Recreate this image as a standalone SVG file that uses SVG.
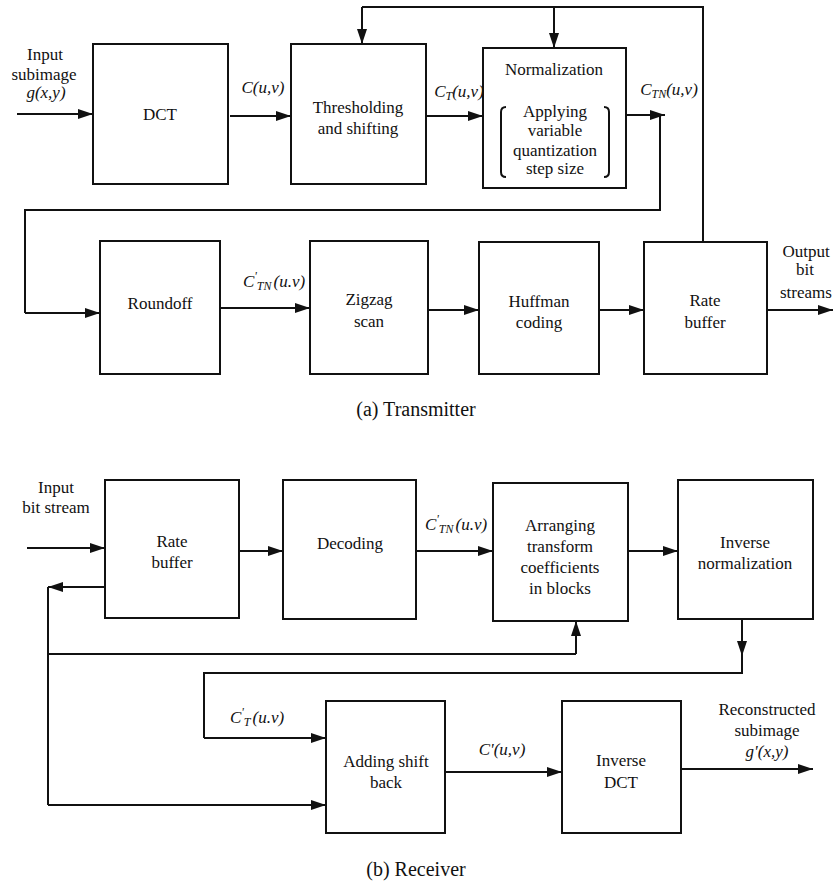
<svg xmlns="http://www.w3.org/2000/svg" width="833" height="887" viewBox="0 0 833 887">
<style>
.box{fill:#fff;stroke:#111;stroke-width:2}
.ln{fill:none;stroke:#111;stroke-width:2}
.ar{fill:none;stroke:#111;stroke-width:2;marker-end:url(#ah)}
text{font-family:"Liberation Serif","DejaVu Serif",serif;font-size:17px;fill:#111;text-anchor:middle}
.m{font-style:italic}
.s{font-size:12px}
.cap{font-size:20px}
</style>
<defs>
<marker id="ah" markerUnits="userSpaceOnUse" markerWidth="16" markerHeight="10" refX="15" refY="5" orient="auto">
<path d="M0,0 L15,5 L0,10 z" fill="#111"/>
</marker>
</defs>
<rect width="833" height="887" fill="#fff"/>

<g id="connectors">
<!-- transmitter -->
<path class="ar" d="M17,114 H93"/>
<path class="ar" d="M230,116 H291"/>
<path class="ar" d="M426,116 H483"/>
<path class="ln" d="M703,242 V7 H362"/>
<path class="ar" d="M362,7 V44"/>
<path class="ar" d="M554,7 V48"/>
<path class="ar" d="M626,115 H665"/>
<path class="ln" d="M660,115 V210 H25 V313"/>
<path class="ar" d="M25,313 H100"/>
<path class="ar" d="M220,308 H310"/>
<path class="ar" d="M428,310 H479"/>
<path class="ar" d="M599,310 H644"/>
<path class="ar" d="M767,310 H833"/>
<!-- receiver -->
<path class="ar" d="M27,548 H105"/>
<path class="ar" d="M239,551 H283"/>
<path class="ar" d="M416,551 H493"/>
<path class="ar" d="M628,551 H678"/>
<path class="ar" d="M105,587 H48"/>
<path class="ln" d="M48,587 V805"/>
<path class="ln" d="M48,654 H576"/>
<path class="ar" d="M576,654 V621"/>
<path class="ar" d="M48,805 H326"/>
<path class="ar" d="M742,619 V656"/>
<path class="ln" d="M742,650 V673 H204 V738"/>
<path class="ar" d="M204,738 H326"/>
<path class="ar" d="M445,772 H562"/>
<path class="ar" d="M681,769 H813"/>
</g>

<g id="dct"><rect class="box" x="93" y="44" width="135" height="140"/><text x="160" y="120">DCT</text></g>
<g id="threshold"><rect class="box" x="291" y="44" width="135" height="140"/><text x="358" y="113">Thresholding</text><text x="358" y="134">and shifting</text></g>
<g id="normalization"><rect class="box" x="483" y="48" width="143" height="140"/>
<text x="554" y="75">Normalization</text>
<path class="ln" d="M506,107 Q501,107 501,112 V172 Q501,177 506,177" stroke-width="1.8"/>
<path class="ln" d="M604,107 Q609,107 609,112 V172 Q609,177 604,177" stroke-width="1.8"/>
<text x="555" y="117">Applying</text><text x="555" y="136">variable</text><text x="555" y="156">quantization</text><text x="555" y="174">step size</text></g>
<g id="roundoff"><rect class="box" x="100" y="241" width="120" height="133"/><text x="160" y="309">Roundoff</text></g>
<g id="zigzag"><rect class="box" x="310" y="241" width="118" height="133"/><text x="369" y="305">Zigzag</text><text x="369" y="327">scan</text></g>
<g id="huffman"><rect class="box" x="479" y="242" width="120" height="132"/><text x="539" y="307">Huffman</text><text x="539" y="328">coding</text></g>
<g id="ratebuffer-tx"><rect class="box" x="644" y="242" width="123" height="132"/><text x="705" y="306">Rate</text><text x="705" y="328">buffer</text></g>

<g id="tx-labels">
<text x="45" y="60">Input</text><text x="44" y="80">subimage</text><text x="46" y="98" class="m">g(x,y)</text>
<text x="263" y="93" class="m">C(u,v)</text>
<text x="459" y="97" class="m">C<tspan class="s" dy="3">T</tspan><tspan dy="-3">(u,v)</tspan></text>
<text x="669" y="95" class="m">C<tspan class="s" dy="3">TN</tspan><tspan dy="-3">(u,v)</tspan></text>
<text x="274" y="287" class="m">C<tspan class="s" dy="-7">'</tspan><tspan class="s" dy="10">TN</tspan><tspan dy="-3" dx="2">(u.v)</tspan></text>
<text x="806" y="257">Output</text><text x="805" y="275">bit</text><text x="780" y="298" style="text-anchor:start">streams</text>
<text x="416" y="416" class="cap">(a) Transmitter</text>
</g>

<g id="ratebuffer-rx"><rect class="box" x="105" y="480" width="134" height="138"/><text x="172" y="547">Rate</text><text x="172" y="568">buffer</text></g>
<g id="decoding"><rect class="box" x="283" y="480" width="133" height="139"/><text x="350" y="549">Decoding</text></g>
<g id="arranging"><rect class="box" x="493" y="483" width="135" height="138"/><text x="560" y="531">Arranging</text><text x="560" y="552">transform</text><text x="560" y="573">coefficients</text><text x="560" y="594">in blocks</text></g>
<g id="invnorm"><rect class="box" x="678" y="480" width="135" height="139"/><text x="745" y="548">Inverse</text><text x="745" y="569">normalization</text></g>
<g id="addshift"><rect class="box" x="326" y="701" width="119" height="132"/><text x="386" y="767">Adding shift</text><text x="386" y="788">back</text></g>
<g id="idct"><rect class="box" x="562" y="701" width="119" height="132"/><text x="621" y="766">Inverse</text><text x="621" y="788">DCT</text></g>

<g id="rx-labels">
<text x="56" y="493">Input</text><text x="56" y="513">bit stream</text>
<text x="456" y="530" class="m">C<tspan class="s" dy="-7">'</tspan><tspan class="s" dy="10">TN</tspan><tspan dy="-3" dx="2">(u.v)</tspan></text>
<text x="257" y="723" class="m">C<tspan class="s" dy="-7">'</tspan><tspan class="s" dy="10">T</tspan><tspan dy="-3" dx="2">(u.v)</tspan></text>
<text x="502" y="755" class="m">C'(u,v)</text>
<text x="767" y="715">Reconstructed</text><text x="767" y="736">subimage</text><text x="767" y="757" class="m">g'(x,y)</text>
<text x="416" y="876" class="cap">(b) Receiver</text>
</g>
</svg>
